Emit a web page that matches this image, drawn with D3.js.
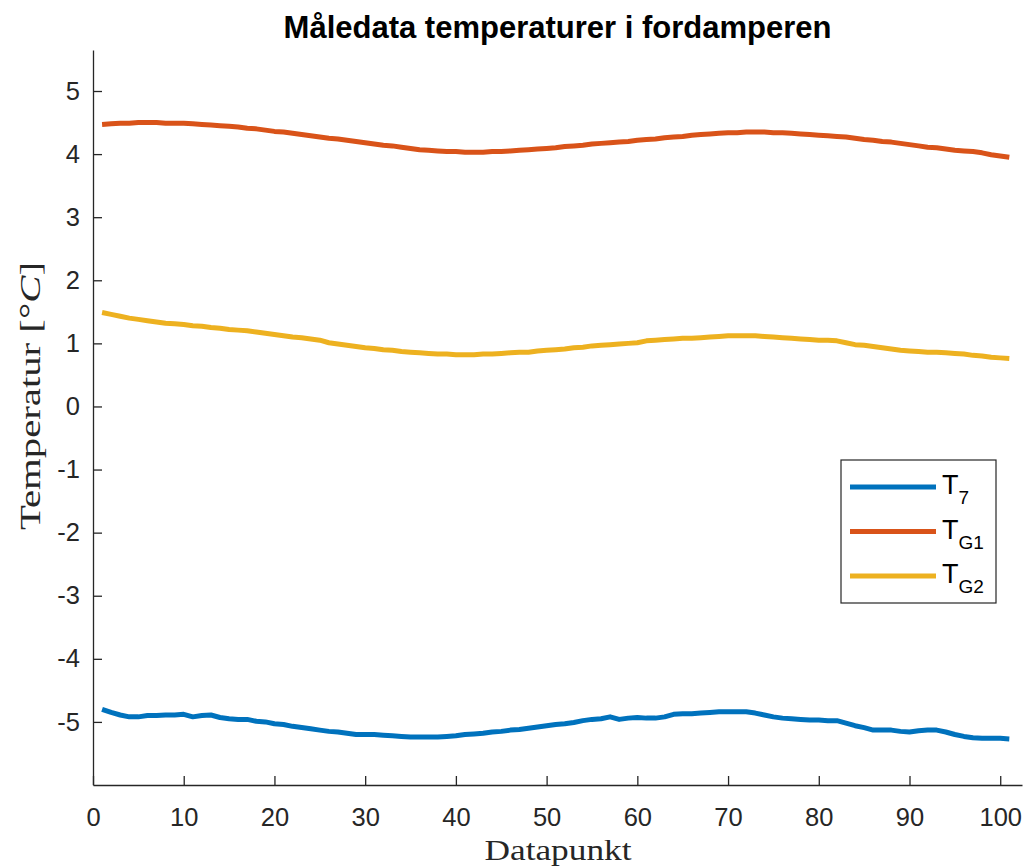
<!DOCTYPE html>
<html>
<head>
<meta charset="utf-8">
<script src="https://cdn.jsdelivr.net/npm/d3@7"></script>
<style>
  html, body { margin: 0; padding: 0; background: #fff; }
  svg { display: block; }
</style>
</head>
<body>
<svg id="chart" width="1025" height="868"></svg>
<script>
// Temperature readings in the evaporator, one value per data point (1..101)
const t7 = [
  -4.80, -4.85, -4.89, -4.92, -4.92, -4.90, -4.90, -4.89, -4.89, -4.88,
  -4.92, -4.90, -4.89, -4.93, -4.95, -4.96, -4.96, -4.99, -5.00, -5.03,
  -5.04, -5.07, -5.09, -5.11, -5.13, -5.15, -5.16, -5.18, -5.20, -5.20,
  -5.20, -5.21, -5.22, -5.23, -5.24, -5.24, -5.24, -5.24, -5.23, -5.22,
  -5.20, -5.19, -5.18, -5.16, -5.15, -5.13, -5.12, -5.10, -5.08, -5.06,
  -5.04, -5.03, -5.01, -4.98, -4.96, -4.95, -4.92, -4.96, -4.94, -4.93,
  -4.94, -4.94, -4.92, -4.88, -4.87, -4.87, -4.86, -4.85, -4.84, -4.84,
  -4.84, -4.84, -4.86, -4.89, -4.92, -4.94, -4.95, -4.96, -4.97, -4.97,
  -4.98, -4.98, -5.02, -5.06, -5.09, -5.13, -5.13, -5.13, -5.15, -5.16,
  -5.14, -5.13, -5.13, -5.16, -5.20, -5.23, -5.25, -5.26, -5.26, -5.26,
  -5.27
];
const tG1 = [
  4.47, 4.48, 4.49, 4.49, 4.50, 4.50, 4.50, 4.49, 4.49, 4.49,
  4.48, 4.47, 4.46, 4.45, 4.44, 4.43, 4.41, 4.40, 4.38, 4.36,
  4.35, 4.33, 4.31, 4.29, 4.27, 4.25, 4.24, 4.22, 4.20, 4.18,
  4.16, 4.14, 4.13, 4.11, 4.09, 4.07, 4.06, 4.05, 4.04, 4.04,
  4.03, 4.03, 4.03, 4.04, 4.04, 4.05, 4.06, 4.07, 4.08, 4.09,
  4.10, 4.12, 4.13, 4.14, 4.16, 4.17, 4.18, 4.19, 4.20, 4.22,
  4.23, 4.24, 4.26, 4.27, 4.28, 4.30, 4.31, 4.32, 4.33, 4.34,
  4.34, 4.35, 4.35, 4.35, 4.34, 4.34, 4.33, 4.32, 4.31, 4.30,
  4.29, 4.28, 4.27, 4.25, 4.23, 4.22, 4.20, 4.19, 4.17, 4.15,
  4.13, 4.11, 4.10, 4.08, 4.06, 4.05, 4.04, 4.02, 3.99, 3.97,
  3.95
];
const tG2 = [
  1.49, 1.46, 1.43, 1.40, 1.38, 1.36, 1.34, 1.32, 1.31, 1.30,
  1.28, 1.27, 1.25, 1.24, 1.22, 1.21, 1.20, 1.18, 1.16, 1.14,
  1.12, 1.10, 1.09, 1.07, 1.05, 1.01, 0.99, 0.97, 0.95, 0.93,
  0.92, 0.90, 0.89, 0.87, 0.86, 0.85, 0.84, 0.83, 0.83, 0.82,
  0.82, 0.82, 0.83, 0.83, 0.84, 0.85, 0.86, 0.86, 0.88, 0.89,
  0.90, 0.91, 0.93, 0.94, 0.96, 0.97, 0.98, 0.99, 1.00, 1.01,
  1.04, 1.05, 1.06, 1.07, 1.08, 1.08, 1.09, 1.10, 1.11, 1.12,
  1.12, 1.12, 1.12, 1.11, 1.10, 1.09, 1.08, 1.07, 1.06, 1.05,
  1.05, 1.04, 1.01, 0.98, 0.97, 0.95, 0.93, 0.91, 0.89, 0.88,
  0.87, 0.86, 0.86, 0.85, 0.84, 0.83, 0.81, 0.80, 0.78, 0.77,
  0.76
];

const seriesNames = ["7", "G1", "G2"];
const seriesColors = ["#0072BD", "#D95319", "#EDB120"];
const xTicks = [0, 10, 20, 30, 40, 50, 60, 70, 80, 90, 100];
const yTicks = [-5, -4, -3, -2, -1, 0, 1, 2, 3, 4, 5];

const titleText = "Måledata temperaturer i fordamperen";
const xLabelText = "Datapunkt";

const svg = d3.select("#chart");
const axisColor = "#262626";
const sansFont = "'Liberation Sans', Arial, Helvetica, sans-serif";
const serifFont = "'Liberation Serif', 'DejaVu Serif', 'Times New Roman', serif";

const plot = { left: 93, right: 1022, top: 50, bottom: 785 };

const x = d3.scaleLinear().domain([0, 102.4]).range([plot.left, plot.right]);
const y = d3.scaleLinear().domain([-6, 5.65]).range([plot.bottom, plot.top]);

// axes with inward ticks
const xAxis = d3.axisBottom(x).tickValues(xTicks).tickFormat(d3.format("d"))
  .tickSizeInner(-9).tickSizeOuter(0).tickPadding(23);
const yAxis = d3.axisLeft(y).tickValues(yTicks).tickFormat(d => d < 0 ? "-" + Math.abs(d) : String(d))
  .tickSizeInner(-9).tickSizeOuter(0).tickPadding(13);

const gx = svg.append("g").attr("transform", `translate(0,${plot.bottom})`).call(xAxis);
const gy = svg.append("g").attr("transform", `translate(${plot.left},0)`).call(yAxis);

[gx, gy].forEach(g => {
  g.select(".domain").attr("stroke", axisColor).attr("stroke-width", 1.3);
  g.selectAll(".tick line").attr("stroke", axisColor).attr("stroke-width", 1.3);
  g.selectAll(".tick text").attr("fill", axisColor)
    .style("font-family", sansFont).style("font-size", "25.5px");
});

// data lines
const line = d3.line().x((d, i) => x(i + 1)).y(d => y(d));
[t7, tG1, tG2].forEach((vals, k) => {
  svg.append("path")
    .datum(vals)
    .attr("d", line)
    .attr("fill", "none")
    .attr("stroke", seriesColors[k])
    .attr("stroke-width", 5)
    .attr("stroke-linejoin", "round")
    .attr("stroke-linecap", "butt");
});

// title
svg.append("text")
  .attr("x", (plot.left + plot.right) / 2)
  .attr("y", 38)
  .attr("text-anchor", "middle")
  .style("font-family", sansFont)
  .style("font-weight", "bold")
  .style("font-size", "31px")
  .attr("fill", "#000")
  .text(titleText);

// x label
svg.append("text")
  .attr("x", 558)
  .attr("y", 860)
  .attr("text-anchor", "middle")
  .attr("textLength", 147)
  .attr("lengthAdjust", "spacingAndGlyphs")
  .style("font-family", serifFont)
  .style("font-size", "30px")
  .attr("fill", axisColor)
  .text(xLabelText);

// y label: Temperatur [°C]
const yl = svg.append("text")
  .attr("transform", `translate(40,396) rotate(-90)`)
  .attr("text-anchor", "middle")
  .attr("textLength", 268)
  .attr("lengthAdjust", "spacingAndGlyphs")
  .style("font-family", serifFont)
  .style("font-size", "30px")
  .attr("fill", axisColor);
yl.append("tspan").text("Temperatur [°");
yl.append("tspan").style("font-style", "italic").text("C");
yl.append("tspan").text("]");

// legend
const legend = { left: 841, top: 460, right: 996, bottom: 603 };
svg.append("rect")
  .attr("x", legend.left).attr("y", legend.top)
  .attr("width", legend.right - legend.left).attr("height", legend.bottom - legend.top)
  .attr("fill", "#fff").attr("stroke", axisColor).attr("stroke-width", 1.2);

const rowY = d3.scalePoint().domain(seriesNames).range([487, 576]);
seriesNames.forEach((name, k) => {
  const cy = rowY(name);
  svg.append("line")
    .attr("x1", 850).attr("x2", 936)
    .attr("y1", cy).attr("y2", cy)
    .attr("stroke", seriesColors[k]).attr("stroke-width", 5);
  const t = svg.append("text")
    .attr("x", 942).attr("y", cy + 7)
    .style("font-family", sansFont)
    .style("font-size", "27px")
    .attr("fill", "#000");
  t.append("tspan").text("T");
  t.append("tspan").attr("dy", 10).style("font-size", "19px").text(name);
});
</script>
</body>
</html>
